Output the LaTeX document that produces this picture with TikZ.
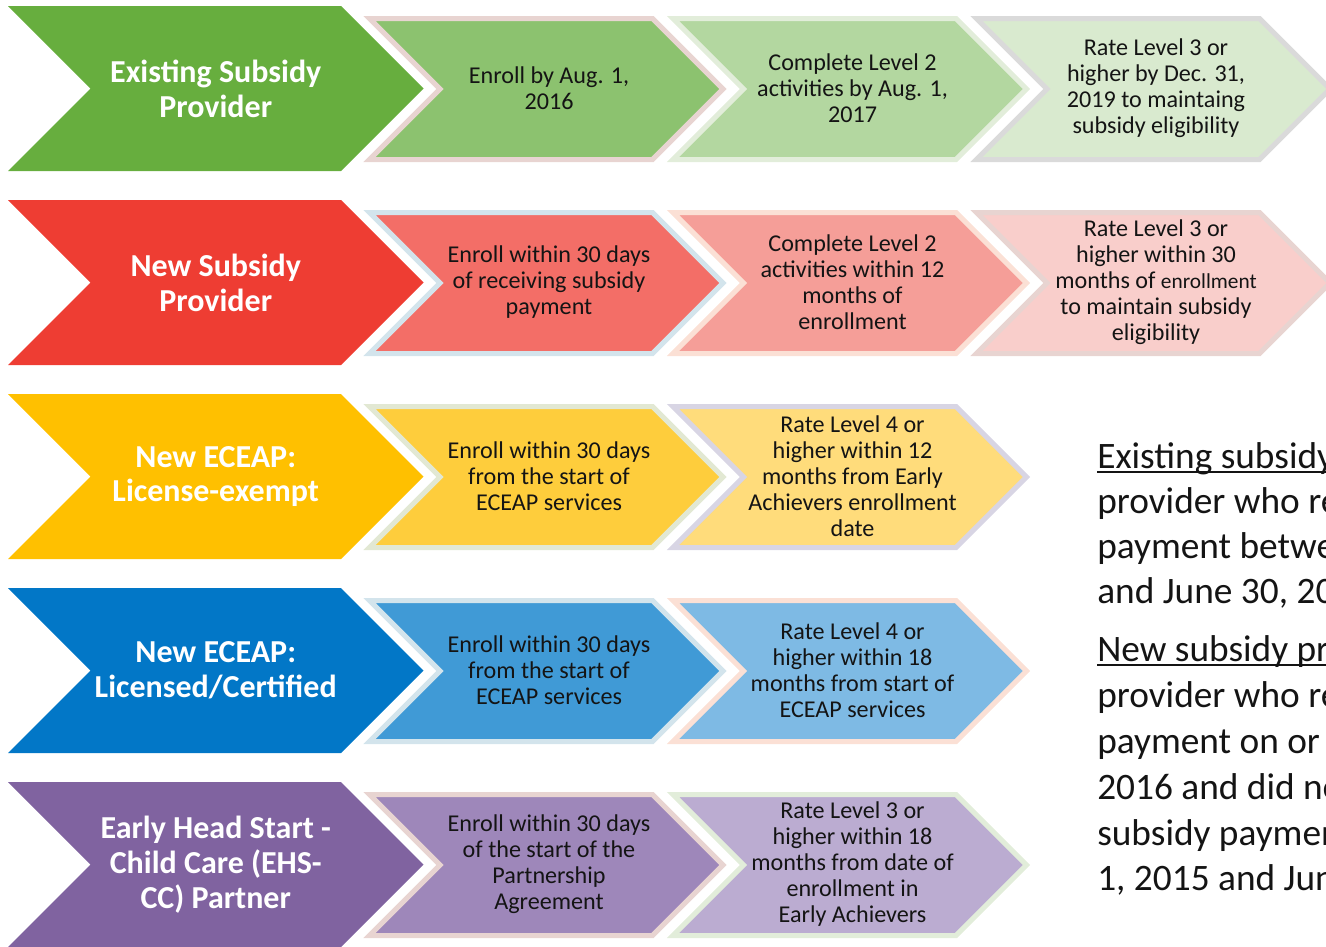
\documentclass[tikz,border=0pt]{standalone}
\usepackage{fontspec}
\setmainfont{Carlito}

% lead chevron: name, centre y, fill colour, label
\newcommand\leadchev[4]{%
  \fill[#3] (8,#2-82.5) -- ++(333,0) -- ++(82.5,82.5) -- ++(-82.5,82.5)
    -- ++(-333,0) -- ++(82.5,-82.5) -- cycle;
  \node[leadtext] (#1) at (215.75,#2) {#4};}

% step chevron: name, column index, centre y, fill, rim colour, label
\newcommand\stepchev[6]{%
  \filldraw[stepshape, fill=#4, draw=#5] ({369.5+303.5*#2},#3-70) -- ++(283,0)
    -- ++(70.5,70.5) -- ++(-70.5,70.5) -- ++(-283,0) -- ++(70.5,-70.5) -- cycle;
  \node[steptext] (#1) at ({549+303.5*#2},#3) {#6};}

\definecolor{gA}{HTML}{67AE3E}\definecolor{gB}{HTML}{8CC26F}
\definecolor{gC}{HTML}{B3D7A0}\definecolor{gD}{HTML}{D9EACF}
\definecolor{rA}{HTML}{EE3D33}\definecolor{rB}{HTML}{F36E67}
\definecolor{rC}{HTML}{F59E98}\definecolor{rD}{HTML}{F9CECB}
\definecolor{yA}{HTML}{FFC000}\definecolor{yB}{HTML}{FECD3C}
\definecolor{yC}{HTML}{FFDC7B}
\definecolor{bA}{HTML}{0277C7}\definecolor{bB}{HTML}{409AD6}
\definecolor{bC}{HTML}{7EBAE4}
\definecolor{pA}{HTML}{8063A0}\definecolor{pB}{HTML}{9E87BA}
\definecolor{pC}{HTML}{BBACD1}
% rim colours
\definecolor{rimPink}{HTML}{E8D4D1}\definecolor{rimGreen}{HTML}{E2EDDA}
\definecolor{rimGrey}{HTML}{DADADA}\definecolor{rimBlue}{HTML}{D3E4EC}
\definecolor{rimPeach}{HTML}{FBE0D5}\definecolor{rimSage}{HTML}{E2E8D3}
\definecolor{rimLilac}{HTML}{D8D5E4}

\begin{document}
\begin{tikzpicture}[x=0.75pt,y=-0.75pt,
  stepshape/.style={line width=3.75pt, line join=miter},
  leadtext/.style={text=white, font=\fontsize{24}{26.2}\selectfont\bfseries,
    align=center, inner sep=0pt},
  steptext/.style={text=black!92, font=\fontsize{18.1}{19.5}\selectfont,
    align=center, inner sep=0pt},
  notetext/.style={anchor=base west, inner sep=0pt, text=black!92,
    font=\fontsize{28}{33}\selectfont},
  noteline/.style={line width=1.5pt, black!92},
]
\useasboundingbox (0,0) rectangle (1326,946);
\clip (0,0) rectangle (1326,946);

% row 1: existing subsidy provider
\leadchev{lead1}{88.5}{gA}{Existing Subsidy\\Provider}
\stepchev{s11}{0}{88.5}{gB}{rimPink}{Enroll by Aug. 1,\\2016}
\stepchev{s12}{1}{88.5}{gC}{rimGreen}{Complete Level 2\\activities by Aug. 1,\\2017}
\stepchev{s13}{2}{88.5}{gD}{rimGrey}{Rate Level 3 or\\higher by Dec. 31,\\2019 to maintaing\\subsidy eligibility}

% row 2: new subsidy provider
\leadchev{lead2}{282.5}{rA}{New Subsidy\\Provider}
\stepchev{s21}{0}{282.5}{rB}{rimBlue}{Enroll within 30 days\\of receiving subsidy\\payment}
\stepchev{s22}{1}{282.5}{rC}{rimPeach}{Complete Level 2\\activities within 12\\months of\\enrollment}
\stepchev{s23}{2}{282.5}{rD}{rimPink}{Rate Level 3 or\\higher within 30\\months of {\fontsize{16}{19.5}\selectfont enrollment}\\to maintain subsidy\\eligibility}

% row 3: new ECEAP, license-exempt
\leadchev{lead3}{476.5}{yA}{New ECEAP:\\License-exempt}
\stepchev{s31}{0}{476.5}{yB}{rimSage}{Enroll within 30 days\\from the start of\\ECEAP services}
\stepchev{s32}{1}{476.5}{yC}{rimLilac}{Rate Level 4 or\\higher within 12\\months from Early\\Achievers enrollment\\date}

% row 4: new ECEAP, licensed/certified
\leadchev{lead4}{670.5}{bA}{New ECEAP:\\Licensed/Certified}
\stepchev{s41}{0}{670.5}{bB}{rimBlue}{Enroll within 30 days\\from the start of\\ECEAP services}
\stepchev{s42}{1}{670.5}{bC}{rimPeach}{Rate Level 4 or\\higher within 18\\months from start of\\ECEAP services}

% row 5: EHS-CC partner
\leadchev{lead5}{864.5}{pA}{Early Head Start -\\Child Care (EHS-\\CC) Partner}
\stepchev{s51}{0}{864.5}{pB}{rimPink}{Enroll within 30 days\\of the start of the\\Partnership\\Agreement}
\stepchev{s52}{1}{864.5}{pC}{rimGreen}{Rate Level 3 or\\higher within 18\\months from date of\\enrollment in\\Early Achievers}

% definitions at the right
\node[notetext] (n1) at (1097,468) {Existing subsidy provider};
\node[notetext] (n2) at (1097,513) {provider who received};
\node[notetext] (n3) at (1097,558) {payment between};
\node[notetext] (n4) at (1097,603) {and June 30, 2016};
\node[notetext] (n5) at (1097,661) {New subsidy provider};
\node[notetext] (n6) at (1097,707) {provider who received};
\node[notetext] (n7) at (1097,753) {payment on or after};
\node[notetext] (n8) at (1097,799) {2016 and did not};
\node[notetext] (n9) at (1097,845) {subsidy payment};
\node[notetext] (n10) at (1097,890) {1, 2015 and June};
\draw[noteline] ([yshift=-3pt]n1.base west) -- ([yshift=-3pt]n1.base east);
\draw[noteline] ([yshift=-3pt]n5.base west) -- ([yshift=-3pt]n5.base east);
\end{tikzpicture}
\end{document}
